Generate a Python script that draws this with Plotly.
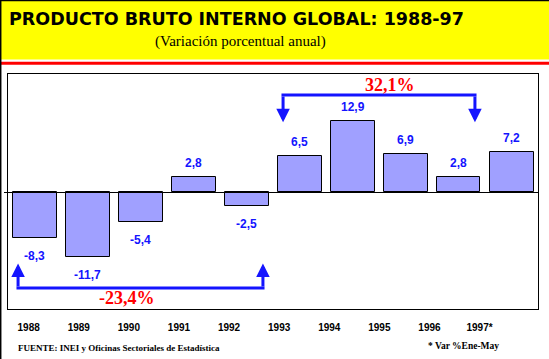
import plotly.graph_objects as go

# ---- data ----
years = ["1988", "1989", "1990", "1991", "1992", "1993", "1994", "1995", "1996", "1997"]
year_labels = ["1988", "1989", "1990", "1991", "1992", "1993", "1994", "1995", "1996", "1997*"]
growth = [-8.3, -11.7, -5.4, 2.8, -2.5, 6.5, 12.9, 6.9, 2.8, 7.2]
value_text = ["-8,3", "-11,7", "-5,4", "2,8", "-2,5", "6,5", "12,9", "6,9", "2,8", "7,2"]
span_start = ["1988", "1993"]
span_end = ["1992", "1996"]
span_text = ["-23,4%", "32,1%"]

W, H = 549, 359
def px_x(p):
    return p / W
def px_y(p):
    return 1 - p / H

BAR = "#A0A0FF"
BLUE = "#1414FF"
RED = "#FF0000"

fig = go.Figure()
fig.add_trace(go.Bar(
    x=years, y=growth, width=0.83,
    marker=dict(color=BAR, line=dict(color="black", width=1)),
    hoverinfo="skip", showlegend=False,
))
# invisible trace carrying the year-label axis
fig.add_trace(go.Scatter(
    x=years, y=[0] * len(years), xaxis="x2", yaxis="y",
    mode="markers", marker=dict(opacity=0), hoverinfo="skip", showlegend=False,
))

annotations = []
# value labels (category index positions)
for i, (v, t) in enumerate(zip(growth, value_text)):
    annotations.append(dict(
        x=i, y=v, xref="x", yref="y", text=t, showarrow=False,
        yanchor="bottom" if v > 0 else "top",
        yshift=5 if v > 0 else -9,
        font=dict(family="Liberation Sans", size=12, color=BLUE, weight="bold"),
    ))

shapes = []
# bracket geometry (in data units / category offsets)
levels = [(-17.2, -12.8, -19.1), (17.5, 12.6, 19.3)]
label_pos = [1.75, 6.7]
off = 0.31
for s, e, t, (lev, tip, ty), lp in zip(span_start, span_end, span_text, levels, label_pos):
    i0 = years.index(s) - off
    i1 = years.index(e) + off
    shapes.append(dict(type="line", xref="x", yref="y", x0=i0 - 0.03, x1=i1 + 0.03,
                       y0=lev, y1=lev, line=dict(color=BLUE, width=3)))
    for xi in (i0, i1):
        annotations.append(dict(
            x=xi, y=tip, ax=xi, ay=lev, xref="x", yref="y", axref="x", ayref="y",
            text="", showarrow=True, arrowhead=2, arrowsize=0.9, arrowwidth=3,
            arrowcolor=BLUE, standoff=0, startstandoff=0,
        ))
    annotations.append(dict(
        x=lp, y=ty, xref="x", yref="y", text=t, showarrow=False,
        font=dict(family="Liberation Serif", size=18, color=RED, weight="bold"),
    ))

# header band
shapes += [
    dict(type="rect", xref="paper", yref="paper", x0=0, x1=1, y0=px_y(59.5), y1=1,
         fillcolor="#FFFF00", line=dict(width=0), layer="above"),
    dict(type="rect", xref="paper", yref="paper", x0=0, x1=1, y0=px_y(64.7), y1=px_y(61.7),
         fillcolor="#FF0000", line=dict(width=0), layer="above"),
    dict(type="line", xref="paper", yref="paper", x0=0, x1=1, y0=px_y(0.5), y1=px_y(0.5),
         line=dict(color="black", width=1.5), layer="above"),
    dict(type="line", xref="paper", yref="paper", x0=px_x(0.7), x1=px_x(0.7), y0=0, y1=1,
         line=dict(color="black", width=1.5), layer="above"),
]

annotations += [
    dict(x=px_x(7), y=px_y(19.5), xref="paper", yref="paper", xanchor="left", yanchor="middle",
         text="PRODUCTO BRUTO INTERNO GLOBAL: 1988-97", showarrow=False,
         font=dict(family="DejaVu Sans", size=17.5, color="black", weight="bold")),
    dict(x=px_x(240), y=px_y(41.5), xref="paper", yref="paper", xanchor="center", yanchor="middle",
         text="(Variación porcentual anual)", showarrow=False,
         font=dict(family="Liberation Serif", size=15, color="black")),
    dict(x=px_x(16), y=px_y(347.7), xref="paper", yref="paper", xanchor="left", yanchor="middle",
         text="FUENTE: INEI y Oficinas Sectoriales de Estadística", showarrow=False,
         font=dict(family="Liberation Serif", size=9, color="black", weight="bold")),
    dict(x=px_x(501), y=px_y(345.7), xref="paper", yref="paper", xanchor="right", yanchor="middle",
         text="* Var %Ene-May", showarrow=False,
         font=dict(family="Liberation Serif", size=9.5, color="black", weight="bold")),
]

fig.update_layout(
    width=W, height=H,
    margin=dict(l=0, r=0, t=0, b=0, pad=0),
    paper_bgcolor="white", plot_bgcolor="rgba(0,0,0,0)",
    showlegend=False, bargap=0,
    xaxis=dict(type="category", domain=[px_x(8), px_x(538)], range=[-0.5, 9.5],
               showticklabels=False, ticks="", showgrid=False, zeroline=False,
               showline=True, mirror=True, linecolor="black", linewidth=1, fixedrange=True),
    xaxis2=dict(type="category", domain=[px_x(3.6), px_x(504.6)], range=[-0.5, 9.5],
                anchor="free", position=px_y(320), showline=False, showgrid=False,
                zeroline=False, ticks="", tickvals=years, ticktext=year_labels,
                tickfont=dict(family="Liberation Sans", size=10, color="black", weight="bold"),
                fixedrange=True),
    yaxis=dict(domain=[px_y(309), px_y(74)], range=[-21.0, 21.3], showticklabels=False,
               ticks="", showgrid=False, zeroline=True, zerolinecolor="black", zerolinewidth=1,
               showline=True, mirror=True, linecolor="black", linewidth=1, fixedrange=True),
    annotations=annotations, shapes=shapes,
)

fig.write_html("out.html", config={"displayModeBar": False},
               post_script="document.body.style.margin='0px';")
